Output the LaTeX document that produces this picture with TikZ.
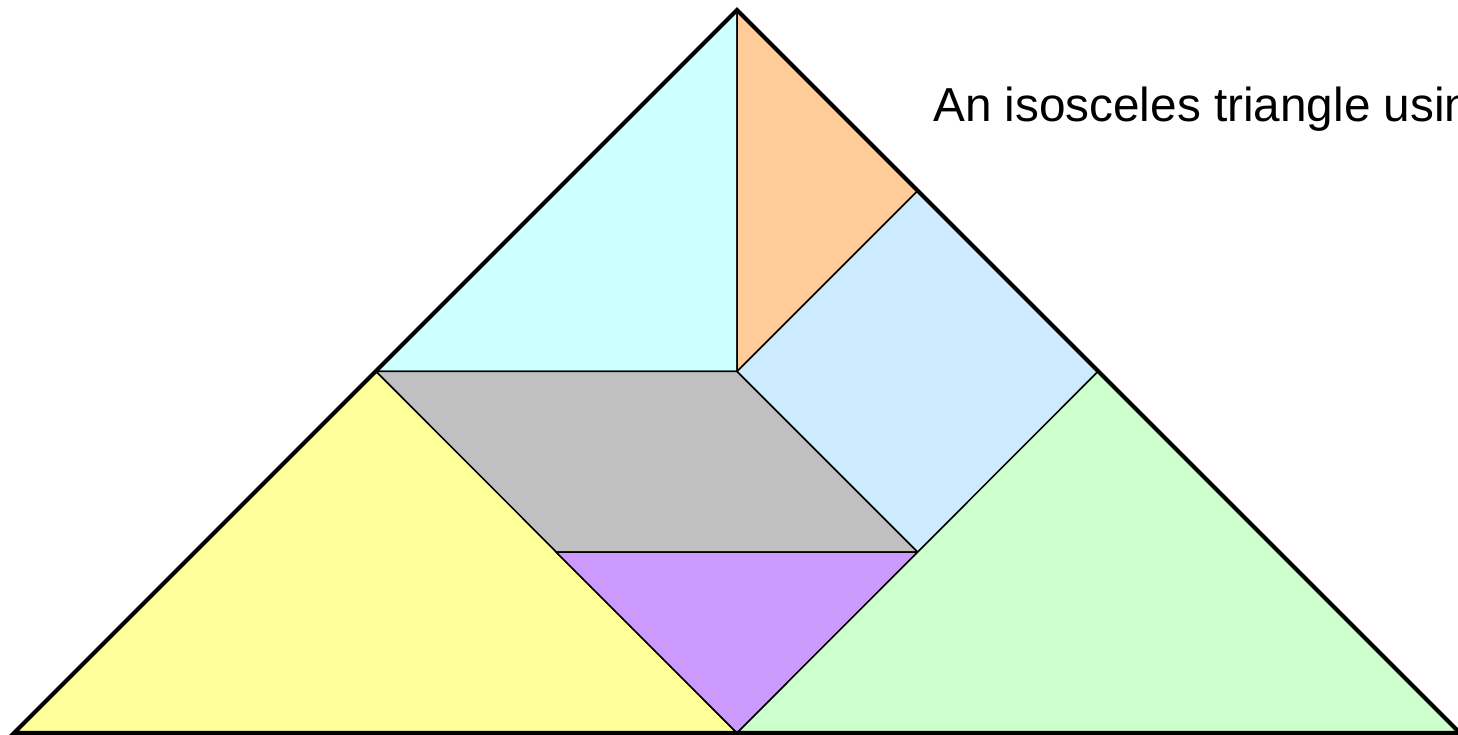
\documentclass[tikz,border=0pt]{standalone}
\usepackage{fontspec}
\setmainfont{Liberation Sans}
\definecolor{cyanp}{HTML}{CCFFFF}
\definecolor{orangep}{HTML}{FFCC99}
\definecolor{bluep}{HTML}{CCEBFF}
\definecolor{grayp}{HTML}{C0C0C0}
\definecolor{yellowp}{HTML}{FFFF99}
\definecolor{purplep}{HTML}{CC99FF}
\definecolor{greenp}{HTML}{CCFFCC}
\begin{document}
\begin{tikzpicture}[x=1pt,y=1pt,
  piece/.style={draw=black,line width=1.5pt,line join=miter},
  outer/.style={draw=black,line width=4pt,line join=miter},
  caption/.style={anchor=base west,inner sep=0pt,font=\fontsize{47.7}{57}\selectfont}]
\useasboundingbox (0,0) rectangle (1458,735);
\clip (0,0) rectangle (1458,735);
\coordinate (T) at (737,725);
\coordinate (BL) at (14,2);
\coordinate (BR) at (1460,2);
\coordinate (BC) at (737,2);
\coordinate (LM) at (376,363.5);
\coordinate (RM) at (1098,363.5);
\coordinate (C) at (737,363.5);
\coordinate (RQ) at (917.75,544.25);
\coordinate (Q) at (917.75,182.75);
\coordinate (P) at (556.25,182.75);
% pieces
\filldraw[piece,fill=cyanp] (T) -- (LM) -- (C) -- cycle;
\filldraw[piece,fill=orangep] (T) -- (RQ) -- (C) -- cycle;
\filldraw[piece,fill=bluep] (RQ) -- (RM) -- (Q) -- (C) -- cycle;
\filldraw[piece,fill=grayp] (LM) -- (C) -- (Q) -- (P) -- cycle;
\filldraw[piece,fill=yellowp] (LM) -- (BL) -- (BC) -- cycle;
\filldraw[piece,fill=purplep] (P) -- (Q) -- (BC) -- cycle;
\filldraw[piece,fill=greenp] (RM) -- (BR) -- (BC) -- cycle;
% outline
\draw[outer] (T) -- (BL) -- (BR) -- cycle;
\node[caption] (cap) at (933,613) {An isosceles triangle using};
\end{tikzpicture}
\end{document}
